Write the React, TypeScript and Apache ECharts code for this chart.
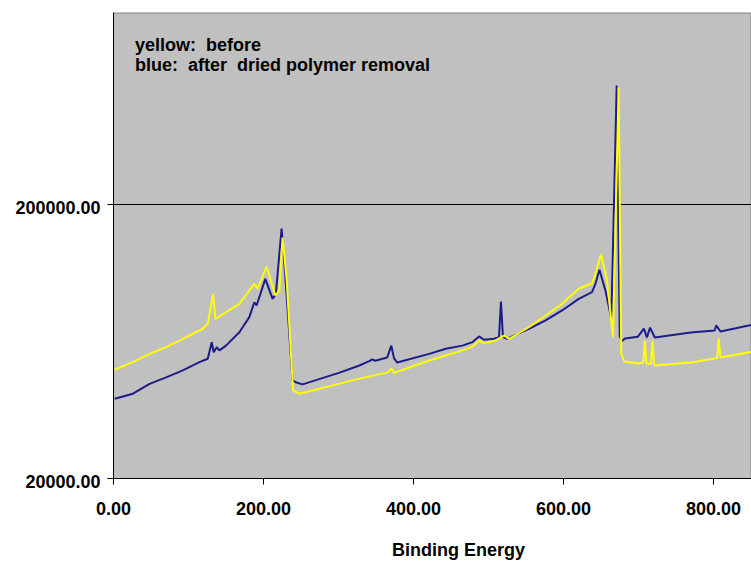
import React, { useEffect, useRef } from "react";
import * as echarts from "echarts";

// Binding energy (eV) and counts
const blueEnergy = [1.6, 25.9, 48.1, 70.2, 92.4, 114.6, 125.7, 131, 133.6, 137.6, 141.2, 150, 167.8, 181.1, 187.8, 190.8, 194.4, 202.4, 212.1, 216.5, 224.1, 229, 238.7, 244, 252, 301.6, 327.8, 341, 345, 349, 365, 370.4, 374, 378.3, 420.9, 443.1, 465.2, 478.5, 487.4, 494, 507.3, 514, 516.6, 519.3, 525, 531.6, 553.9, 576.1, 598.1, 620.3, 638, 642.6, 647.9, 655.9, 663.8, 670.9, 675, 678, 682, 699, 707.2, 711.2, 715.4, 721.8, 769.6, 801.5, 803.5, 809.4, 850];
const blueCounts = [39100, 40800, 44300, 46800, 49600, 53200, 54700, 62900, 57800, 60300, 58700, 61100, 68400, 77600, 88000, 85600, 91700, 107100, 90500, 94400, 163500, 110000, 45600, 44800, 44100, 48700, 51700, 53600, 54400, 53800, 55300, 61100, 55000, 53000, 57000, 59500, 61100, 62900, 66000, 64200, 64700, 65600, 88500, 65600, 64700, 66000, 70400, 75500, 82100, 90500, 95700, 102700, 115500, 97100, 76500, 543800, 66000, 63500, 64900, 65800, 70500, 65400, 71100, 65400, 68200, 69400, 72400, 68800, 72600];

const yellowEnergy = [1.6, 25.9, 48.1, 70.2, 92.4, 119, 125.7, 132.7, 135.9, 150, 167.8, 187.8, 192.2, 204.1, 215.7, 221, 225.4, 231, 239.5, 248, 301.6, 327.8, 366, 370.4, 374, 420.9, 443.1, 465.2, 478.5, 487.4, 494, 509.6, 520.6, 527.3, 553.9, 576.1, 598.1, 620.3, 638, 642.6, 650, 658, 666, 673.5, 677, 681, 699.2, 706.5, 708.5, 710.5, 716.5, 718.5, 720.8, 769.6, 801.5, 805, 806.8, 809.4, 850];
const yellowCounts = [49900, 53200, 57000, 60300, 64700, 70400, 73400, 94400, 76500, 80900, 86800, 102700, 98500, 118800, 93100, 97100, 151500, 105000, 41900, 40800, 44400, 46300, 48800, 50400, 48600, 53900, 56200, 58700, 60600, 63800, 62300, 63800, 66500, 64700, 71300, 78700, 86800, 98500, 103200, 111700, 131400, 105600, 65600, 534600, 57000, 53500, 52600, 53000, 63800, 52600, 52300, 63800, 51700, 53000, 54800, 55000, 64900, 55300, 57900];

const xTicks = [0, 200, 400, 600, 800];
const yTicks = [20000, 200000];
const noteLines = ["yellow:  before", "blue:  after  dried polymer removal"];
const xTitle = "Binding Energy";

const FONT = "'Liberation Sans', Arial, Helvetica, sans-serif";

export default function App() {
  const ref = useRef<HTMLDivElement>(null);
  useEffect(() => {
    if (!ref.current) return;
    const chart = echarts.init(ref.current, null, { renderer: "svg" });
    const blue = blueEnergy.map((e, i) => [e, blueCounts[i]]);
    const yellow = yellowEnergy.map((e, i) => [e, yellowCounts[i]]);
    chart.setOption({
      animation: false,
      backgroundColor: "#ffffff",
      grid: {
        left: 113.5,
        top: 13,
        width: 639,
        height: 465.5,
        show: true,
        backgroundColor: "#c0c0c0",
        borderColor: "#808080",
        borderWidth: 1,
      },
      xAxis: {
        type: "value",
        min: 0,
        max: 850,
        interval: 200,
        axisLine: { show: true, onZero: false, lineStyle: { color: "#000", width: 1 } },
        axisTick: { show: true, length: 6, lineStyle: { color: "#000" }, customValues: xTicks },
        axisLabel: {
          customValues: xTicks,
          margin: 21,
          fontFamily: FONT,
          fontWeight: "bold",
          fontSize: 18,
          color: "#000",
          formatter: (v: number) => v.toFixed(2),
        },
        splitLine: { show: false },
      },
      yAxis: {
        type: "log",
        logBase: 10,
        min: 20000,
        max: 1000000,
        axisLine: { show: true, lineStyle: { color: "#000", width: 1 } },
        axisTick: { show: true, length: 6, lineStyle: { color: "#000" }, customValues: yTicks },
        axisLabel: {
          customValues: yTicks,
          margin: 13,
          verticalAlign: "top",
          lineHeight: 7,
          fontFamily: FONT,
          fontWeight: "bold",
          fontSize: 18,
          color: "#000",
          formatter: (v: number) => Number(v).toFixed(2),
        },
        splitLine: { show: true, lineStyle: { color: "#000", width: 1 } },
        minorTick: { show: false },
        minorSplitLine: { show: false },
      },
      series: [
        {
          type: "line",
          name: "blue",
          data: blue,
          showSymbol: false,
          symbol: "none",
          lineStyle: { color: "#1c1c8a", width: 2 },
          z: 2,
        },
        {
          type: "line",
          name: "yellow",
          data: yellow,
          showSymbol: false,
          symbol: "none",
          lineStyle: { color: "#ffff00", width: 2 },
          z: 3,
        },
      ],
      graphic: [
        {
          type: "text",
          left: 135,
          top: 36,
          style: { text: noteLines[0], fontFamily: FONT, fontWeight: "bold", fontSize: 18, fill: "#000" },
          z: 10,
        },
        {
          type: "text",
          left: 135,
          top: 56,
          style: { text: noteLines[1], fontFamily: FONT, fontWeight: "bold", fontSize: 18, fill: "#000" },
          z: 10,
        },
        {
          type: "text",
          left: 392,
          top: 541,
          style: { text: xTitle, fontFamily: FONT, fontWeight: "bold", fontSize: 18, fill: "#000" },
          z: 10,
        },
      ],
    });
    return () => chart.dispose();
  }, []);
  return (
    <div
      ref={ref}
      style={{ position: "absolute", left: 0, top: 0, width: 751, height: 570 }}
    />
  );
}
